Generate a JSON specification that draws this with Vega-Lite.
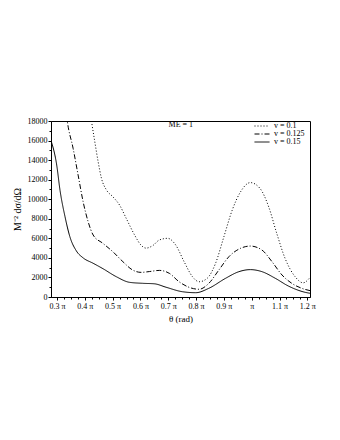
{
  "$schema": "https://vega.github.io/schema/vega-lite/v6.json",
  "width": 259,
  "height": 176,
  "autosize": {"type": "none"},
  "padding": {"left": 51, "top": 121, "right": 30, "bottom": 143},
  "background": "white",
  "config": {
    "font": "Liberation Serif",
    "view": {"stroke": "black", "strokeWidth": 1},
    "axis": {
      "labelFont": "Liberation Serif",
      "titleFont": "Liberation Serif",
      "labelFontSize": 8,
      "titleFontSize": 9,
      "titleFontWeight": "normal",
      "labelColor": "black",
      "titleColor": "black",
      "domainColor": "black",
      "tickColor": "black",
      "grid": false
    },
    "legend": {
      "labelFont": "Liberation Serif",
      "labelFontSize": 8,
      "labelColor": "black"
    }
  },
  "datasets": {
    "curves": [
      {"theta": 0.2785, "y": 16000, "v": "v = 0.15"},
      {"theta": 0.299, "y": 13500, "v": "v = 0.15"},
      {"theta": 0.311, "y": 10900, "v": "v = 0.15"},
      {"theta": 0.329, "y": 8200, "v": "v = 0.15"},
      {"theta": 0.346, "y": 6200, "v": "v = 0.15"},
      {"theta": 0.37, "y": 4700, "v": "v = 0.15"},
      {"theta": 0.394, "y": 4000, "v": "v = 0.15"},
      {"theta": 0.43, "y": 3450, "v": "v = 0.15"},
      {"theta": 0.465, "y": 2900, "v": "v = 0.15"},
      {"theta": 0.513, "y": 2080, "v": "v = 0.15"},
      {"theta": 0.561, "y": 1500, "v": "v = 0.15"},
      {"theta": 0.608, "y": 1400, "v": "v = 0.15"},
      {"theta": 0.65, "y": 1350, "v": "v = 0.15"},
      {"theta": 0.692, "y": 1000, "v": "v = 0.15"},
      {"theta": 0.751, "y": 540, "v": "v = 0.15"},
      {"theta": 0.799, "y": 440, "v": "v = 0.15"},
      {"theta": 0.846, "y": 890, "v": "v = 0.15"},
      {"theta": 0.906, "y": 1910, "v": "v = 0.15"},
      {"theta": 0.954, "y": 2590, "v": "v = 0.15"},
      {"theta": 0.995, "y": 2800, "v": "v = 0.15"},
      {"theta": 1.037, "y": 2590, "v": "v = 0.15"},
      {"theta": 1.085, "y": 1910, "v": "v = 0.15"},
      {"theta": 1.132, "y": 1120, "v": "v = 0.15"},
      {"theta": 1.192, "y": 480, "v": "v = 0.15"},
      {"theta": 1.2096, "y": 380, "v": "v = 0.15"},

      {"theta": 0.2785, "y": 40000, "v": "v = 0.125"},
      {"theta": 0.31, "y": 26000, "v": "v = 0.125"},
      {"theta": 0.337, "y": 18000, "v": "v = 0.125"},
      {"theta": 0.358, "y": 15200, "v": "v = 0.125"},
      {"theta": 0.376, "y": 12470, "v": "v = 0.125"},
      {"theta": 0.394, "y": 9740, "v": "v = 0.125"},
      {"theta": 0.412, "y": 7700, "v": "v = 0.125"},
      {"theta": 0.43, "y": 6340, "v": "v = 0.125"},
      {"theta": 0.465, "y": 5490, "v": "v = 0.125"},
      {"theta": 0.501, "y": 4630, "v": "v = 0.125"},
      {"theta": 0.537, "y": 3610, "v": "v = 0.125"},
      {"theta": 0.572, "y": 2760, "v": "v = 0.125"},
      {"theta": 0.602, "y": 2520, "v": "v = 0.125"},
      {"theta": 0.632, "y": 2600, "v": "v = 0.125"},
      {"theta": 0.668, "y": 2720, "v": "v = 0.125"},
      {"theta": 0.704, "y": 2420, "v": "v = 0.125"},
      {"theta": 0.739, "y": 1560, "v": "v = 0.125"},
      {"theta": 0.775, "y": 990, "v": "v = 0.125"},
      {"theta": 0.811, "y": 790, "v": "v = 0.125"},
      {"theta": 0.846, "y": 1400, "v": "v = 0.125"},
      {"theta": 0.882, "y": 2760, "v": "v = 0.125"},
      {"theta": 0.918, "y": 4120, "v": "v = 0.125"},
      {"theta": 0.96, "y": 4980, "v": "v = 0.125"},
      {"theta": 0.995, "y": 5210, "v": "v = 0.125"},
      {"theta": 1.037, "y": 4800, "v": "v = 0.125"},
      {"theta": 1.073, "y": 3610, "v": "v = 0.125"},
      {"theta": 1.109, "y": 2250, "v": "v = 0.125"},
      {"theta": 1.144, "y": 1400, "v": "v = 0.125"},
      {"theta": 1.18, "y": 890, "v": "v = 0.125"},
      {"theta": 1.2096, "y": 650, "v": "v = 0.125"},

      {"theta": 0.36, "y": 32000, "v": "v = 0.1"},
      {"theta": 0.4, "y": 23000, "v": "v = 0.1"},
      {"theta": 0.424, "y": 18000, "v": "v = 0.1"},
      {"theta": 0.436, "y": 15870, "v": "v = 0.1"},
      {"theta": 0.448, "y": 13830, "v": "v = 0.1"},
      {"theta": 0.46, "y": 12130, "v": "v = 0.1"},
      {"theta": 0.478, "y": 10940, "v": "v = 0.1"},
      {"theta": 0.501, "y": 10250, "v": "v = 0.1"},
      {"theta": 0.525, "y": 9400, "v": "v = 0.1"},
      {"theta": 0.549, "y": 8040, "v": "v = 0.1"},
      {"theta": 0.579, "y": 6340, "v": "v = 0.1"},
      {"theta": 0.602, "y": 5310, "v": "v = 0.1"},
      {"theta": 0.62, "y": 5000, "v": "v = 0.1"},
      {"theta": 0.644, "y": 5250, "v": "v = 0.1"},
      {"theta": 0.668, "y": 5830, "v": "v = 0.1"},
      {"theta": 0.698, "y": 6000, "v": "v = 0.1"},
      {"theta": 0.727, "y": 5310, "v": "v = 0.1"},
      {"theta": 0.757, "y": 3610, "v": "v = 0.1"},
      {"theta": 0.787, "y": 2080, "v": "v = 0.1"},
      {"theta": 0.811, "y": 1560, "v": "v = 0.1"},
      {"theta": 0.84, "y": 1910, "v": "v = 0.1"},
      {"theta": 0.87, "y": 3440, "v": "v = 0.1"},
      {"theta": 0.9, "y": 6160, "v": "v = 0.1"},
      {"theta": 0.93, "y": 8890, "v": "v = 0.1"},
      {"theta": 0.96, "y": 10760, "v": "v = 0.1"},
      {"theta": 0.995, "y": 11700, "v": "v = 0.1"},
      {"theta": 1.03, "y": 11100, "v": "v = 0.1"},
      {"theta": 1.061, "y": 9230, "v": "v = 0.1"},
      {"theta": 1.09, "y": 6510, "v": "v = 0.1"},
      {"theta": 1.12, "y": 3950, "v": "v = 0.1"},
      {"theta": 1.156, "y": 2080, "v": "v = 0.1"},
      {"theta": 1.185, "y": 1450, "v": "v = 0.1"},
      {"theta": 1.2096, "y": 2000, "v": "v = 0.1"}
    ],
    "annot": [
      {"theta": 0.745, "y": 17590, "label": "ME = 1"}
    ]
  },
  "layer": [
    {
      "data": {"name": "curves"},
      "mark": {"type": "line", "clip": true, "interpolate": "monotone", "strokeWidth": 1, "color": "black"},
      "encoding": {
        "x": {
          "field": "theta", "type": "quantitative",
          "scale": {"domain": [0.2785, 1.2096], "nice": false, "zero": false},
          "axis": {
            "orient": "bottom",
            "title": "θ (rad)",
            "values": [0.3, 0.4, 0.5, 0.6, 0.7, 0.8, 0.9, 1.0, 1.1, 1.2],
            "labelExpr": "datum.value == 1 ? 'π' : format(datum.value, '.1f') + ' π'",
            "tickSize": 3,
            "labelPadding": 2,
            "titlePadding": 4
          }
        },
        "y": {
          "field": "y", "type": "quantitative",
          "scale": {"domain": [0, 18000], "nice": false},
          "axis": {
            "orient": "left",
            "title": "M⁻² dσ/dΩ",
            "titleFontSize": 10,
            "values": [0, 2000, 4000, 6000, 8000, 10000, 12000, 14000, 16000, 18000],
            "format": "d",
            "tickSize": 3,
            "labelPadding": 1,
            "titlePadding": 5
          }
        },
        "strokeDash": {
          "field": "v", "type": "nominal",
          "scale": {
            "domain": ["v = 0.1", "v = 0.125", "v = 0.15"],
            "range": [[1, 2], [5, 2, 1, 2], [1, 0]]
          },
          "legend": {
            "title": null,
            "orient": "none",
            "legendX": 207,
            "legendY": 1,
            "symbolType": "M-3,0H3",
            "symbolSize": 25,
            "symbolStrokeWidth": 1,
            "symbolStrokeColor": "black",
            "symbolFillColor": "transparent",
            "rowPadding": -2,
            "labelOffset": 8,
            "padding": 0
          }
        }
      }
    },
    {
      "data": {"name": "curves"},
      "mark": {"type": "line", "strokeOpacity": 0, "clip": true},
      "encoding": {
        "x": {
          "field": "theta", "type": "quantitative",
          "axis": {
            "orient": "bottom",
            "title": null,
            "labels": false,
            "domain": false,
            "tickSize": 2,
            "values": [0.3, 0.325, 0.35, 0.375, 0.4, 0.425, 0.45, 0.475, 0.5, 0.525, 0.55, 0.575, 0.6, 0.625, 0.65, 0.675, 0.7, 0.725, 0.75, 0.775, 0.8, 0.825, 0.85, 0.875, 0.9, 0.925, 0.95, 0.975, 1.0, 1.025, 1.05, 1.075, 1.1, 1.125, 1.15, 1.175, 1.2]
          }
        },
        "y": {
          "field": "y", "type": "quantitative",
          "axis": {
            "orient": "left",
            "title": null,
            "labels": false,
            "domain": false,
            "tickSize": 2,
            "values": [1000, 3000, 5000, 7000, 9000, 11000, 13000, 15000, 17000]
          }
        }
      }
    },
    {
      "data": {"name": "annot"},
      "mark": {"type": "text", "font": "Liberation Serif", "fontSize": 8, "color": "black"},
      "encoding": {
        "x": {"field": "theta", "type": "quantitative", "axis": null},
        "y": {"field": "y", "type": "quantitative", "axis": null},
        "text": {"field": "label"}
      }
    }
  ],
  "resolve": {"axis": {"x": "independent", "y": "independent"}}
}
